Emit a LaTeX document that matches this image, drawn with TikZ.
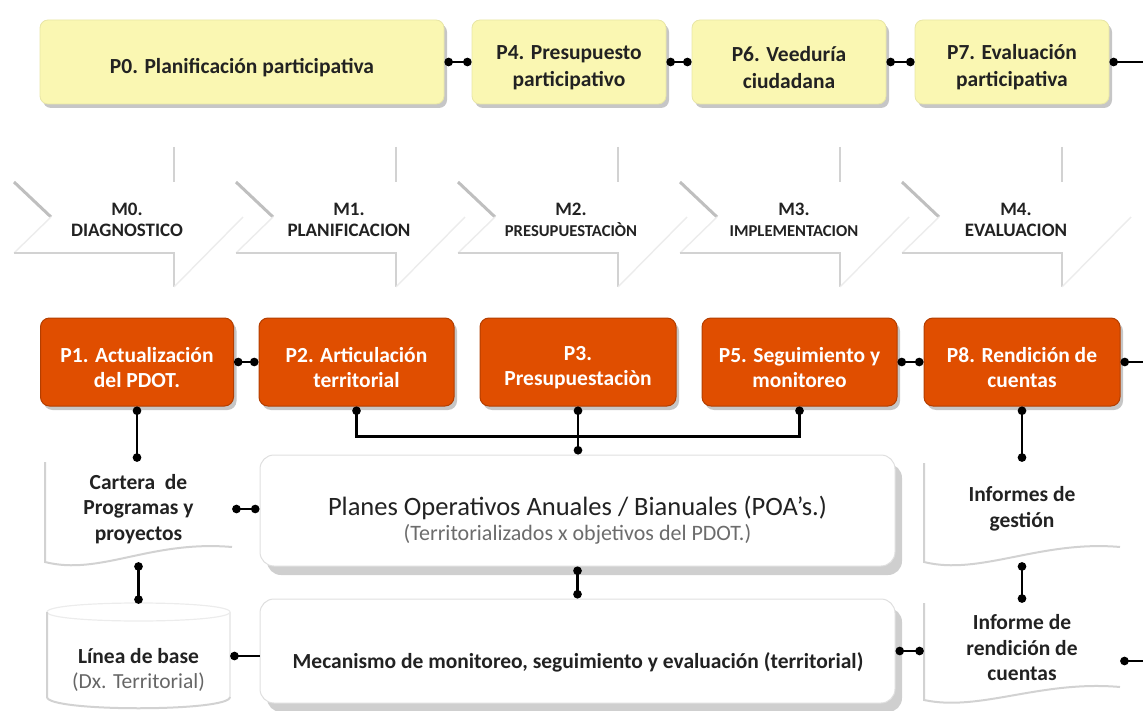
\documentclass[tikz,border=0pt]{standalone}
\usepackage{fontspec}
\setmainfont{Carlito}
\usepackage{xcolor}
\usepackage{tikz}
\usetikzlibrary{arrows.meta,calc,shadows}

\definecolor{pyellow}{RGB}{250,247,178}
\definecolor{porange}{RGB}{224,78,0}
\definecolor{ptext}{RGB}{34,34,34}

\tikzset{
	ybox/.style={rounded corners=8pt,fill=pyellow,draw=pyellow!93!black,line width=0.8pt,minimum height=84pt,drop shadow={shadow xshift=3pt,shadow yshift=-4pt,opacity=0.45}},
	obox/.style={rounded corners=9pt,fill=porange,draw=porange!80!black,line width=1pt,minimum height=88pt,drop shadow={shadow xshift=3pt,shadow yshift=-4pt,opacity=0.45}},
	ylab/.style={yshift=-5.5pt,align=center,text=ptext,font=\bfseries\fontsize{21.5}{27}\selectfont},
	olab/.style={yshift=-5.5pt,align=center,text=white,font=\bfseries\fontsize{21.5}{25}\selectfont},
	wbox/.style={rounded corners=14pt,fill=white,draw=gray!25,line width=1pt,minimum width=635pt,drop shadow={shadow xshift=7pt,shadow yshift=-9pt,opacity=0.38}},
	mtext/.style={align=center,text=ptext,font=\bfseries\fontsize{19}{21}\selectfont},
	dtext/.style={align=center,text=ptext,font=\bfseries\fontsize{21.5}{25.5}\selectfont},
	chevshade/.style={gray!50,line width=3pt},
	chevline/.style={gray!35,line width=1.6pt},
	chevfaint/.style={gray!15,line width=1.4pt},
	docline/.style={gray!35,line width=2pt},
	docfaint/.style={gray!15,line width=1.2pt},
	dotlink/.style={line width=2.4pt,{Circle[length=8.5pt]}-{Circle[length=8.5pt]}},
	dotout/.style={line width=2.4pt,{Circle[length=8.5pt]}-}
}

\begin{document}
\begin{tikzpicture}[x=1pt,y=-1pt]
	\useasboundingbox (0,0) rectangle (1143,711);

	\node[ybox,minimum width=404pt,label={[ylab,name=p0t]center:{P0. Planificación participativa}}]	(p0)	at (242,62)	{};
	\node[ybox,minimum width=194pt,label={[ylab,name=p4t]center:{P4. Presupuesto\\participativo}}]	(p4)	at (569,62)	{};
	\node[ybox,minimum width=194pt,label={[ylab,name=p6t]center:{P6. Veeduría\\ciudadana}}]	(p6)	at (789,62)	{};
	\node[ybox,minimum width=194pt,label={[ylab,name=p7t]center:{P7. Evaluación\\participativa}}]	(p7)	at (1012,62)	{};
	\coordinate (p7out) at (1143,62);
	\draw[dotlink]	(p0) -- (p4);
	\draw[dotlink]	(p4) -- (p6);
	\draw[dotlink]	(p6) -- (p7);
	\draw[dotout]	(p7.east) -- (p7out);

	\foreach \x in {14,236,458,680,902} {
		\fill[white] (\x,182) -- (\x+160,182) -- (\x+160,147) -- (\x+229,217) -- (\x+160,287) -- (\x+160,253) -- (\x,253) -- (\x+37,217) -- cycle;
		\draw[chevshade] (\x,182) -- (\x+37,217);
		\draw[chevfaint] (\x+37,217) -- (\x,253);
		\draw[chevline] (\x,253) -- (\x+160,253) -- (\x+160,287);
		\draw[chevline] (\x+160,147) -- (\x+160,182);
		\draw[chevfaint] (\x+160,287) -- (\x+229,217);
	}
	\node[mtext]	(m0)	at (127,220)	{M0.\\DIAGNOSTICO};
	\node[mtext]	(m1)	at (349,220)	{M1.\\PLANIFICACION};
	\node[mtext]	(m2)	at (571,220)	{M2.\\{\fontsize{16.6}{19}\selectfont PRESUPUESTACIÒN}};
	\node[mtext]	(m3)	at (794,220)	{M3.\\{\fontsize{16.6}{19}\selectfont IMPLEMENTACION}};
	\node[mtext]	(m4)	at (1016,220)	{M4.\\EVALUACION};

	\node[obox,minimum width=193pt,label={[olab,name=p1t]center:{P1. Actualización\\del PDOT.}}]	(p1)	at (137,362)	{};
	\node[obox,minimum width=195pt,label={[olab,name=p2t]center:{P2. Articulación\\territorial}}]	(p2)	at (356.5,362)	{};
	\node[obox,minimum width=196pt,label={[olab,name=p3t]center:{P3.\\Presupuestaciòn}}]	(p3)	at (578,362)	{};
	\node[obox,minimum width=195pt,label={[olab,name=p5t]center:{P5. Seguimiento y\\monitoreo}}]	(p5)	at (799.5,362)	{};
	\node[obox,minimum width=196pt,label={[olab,name=p8t]center:{P8. Rendición de\\cuentas}}]	(p8)	at (1022,362)	{};
	\coordinate (p8out) at (1143,362);
	\draw[dotlink]	(p1) -- (p2);
	\draw[dotlink]	(p5) -- (p8);
	\draw[dotout]	(p8.east) -- (p8out);

	\node[wbox,minimum height=111pt]	(poa)	at (577.5,510.5)	{};
	\node[align=center,text=ptext,font=\fontsize{22}{25}\selectfont]	(poatxt)	at (577.5,520)
		{{\fontsize{26.5}{25}\selectfont Planes Operativos Anuales / Bianuales (POA’s.)}\\{\color{gray!85!black}(Territorializados x objetivos del PDOT.)}};
	\node[wbox,minimum height=104pt]	(meca)	at (577.5,651)	{};
	\node[dtext]	(mecatxt)	at (578,662)	{Mecanismo de monitoreo, seguimiento y evaluación (territorial)};

	\draw[docline] (45,462) -- (45,562) .. controls (100,576) and (150,540) .. (232,547);
	\node[dtext,minimum width=187pt,minimum height=94pt]	(cartera)	at (138.5,509)	{Cartera~~de\\Programas y\\proyectos};

	\draw[docfaint] (47,612) .. controls (47,600) and (230,600) .. (230,612) .. controls (230,624) and (47,624) .. (47,612);
	\draw[docfaint] (230,612) -- (230,697);
	\draw[docline] (47,612) -- (47,697) .. controls (47,712) and (230,712) .. (230,697);
	\node[minimum width=183pt,minimum height=104pt,inner sep=0pt]	(linea)	at (138.5,656)	{};
	\node[dtext]	(lineatxt)	at (138.5,670)	{Línea de base\\{\mdseries\color{gray!80!black}(Dx. Territorial)}};

	\draw[docline] (924,463) -- (924,562) .. controls (980,576) and (1040,540) .. (1120,547);
	\node[dtext,minimum width=196pt,minimum height=94pt]	(inf)	at (1022,509)	{Informes de\\gestión};
	\draw[docline] (924,603) -- (924,700) .. controls (980,712) and (1040,680) .. (1120,687);
	\node[dtext,minimum width=196pt,minimum height=90pt]	(rend)	at (1022,648)	{Informe de\\rendición de\\cuentas};
	\coordinate (rendout) at (1143,661);

	\draw[dotlink]	(p1.south) -- (p1.south |- cartera.north);
	\draw[dotlink]	(p2.south) -- ++(0,30) -| (p5.south);
	\draw[dotlink]	(p3.south) -- (p3.south |- poa.north);
	\draw[dotlink]	(p8.south) -- (inf.north);
	\draw[dotlink]	(cartera.east) -- (cartera.east -| poa.west);
	\draw[dotlink]	($(cartera.south)+(0,6)$) -- (linea.north);
	\draw[dotlink]	(poa.south) -- (poa.south |- meca.north);
	\draw[dotlink]	($(inf.south)+(0,6)$) -- (rend.north);
	\draw[dotout]	(linea.east) -- (linea.east -| meca.west);
	\draw[dotlink]	(meca.east) -- (meca.east -| rend.west);
	\draw[dotout]	(rendout -| rend.east) -- (rendout);
\end{tikzpicture}
\end{document}
